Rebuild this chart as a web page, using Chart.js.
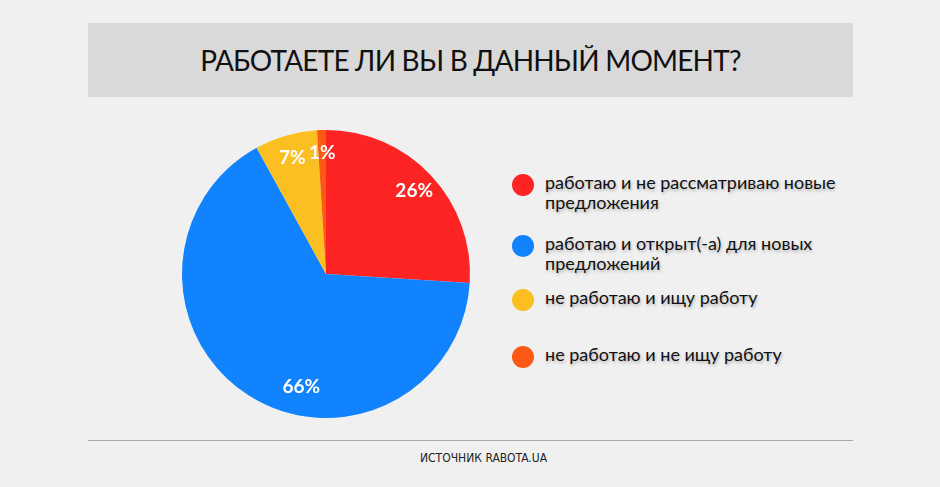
<!DOCTYPE html>
<html>
<head>
<meta charset="utf-8">
<script src="https://cdn.jsdelivr.net/npm/chart.js@4/dist/chart.umd.min.js"></script>
<style>
  html, body { margin: 0; padding: 0; }
  body { width: 940px; height: 487px; background: #f0f0f0; position: relative; overflow: hidden; font-family: Lato, "Open Sans", sans-serif; }
  #titlebar { position: absolute; left: 88px; top: 23px; width: 765px; height: 74px; background: #d9d9d9; }
  #titlebar h1 { margin: 0; font-weight: 400; font-size: 28px; line-height: 74px; text-align: center; color: #111; letter-spacing: -0.8px; }
  #pie { position: absolute; left: 176px; top: 124px; width: 300px; height: 300px; }
  #legend { position: absolute; left: 512px; top: 172px; width: 340px; }
  .item { position: relative; padding-left: 33px; font-size: 18px; line-height: 20px; color: #111; text-shadow: 1px 2px 3px rgba(0,0,0,0.25); }
  .dot { position: absolute; left: 0; top: 2px; width: 22px; height: 22px; border-radius: 50%; }
  #rule { position: absolute; left: 88px; top: 440px; width: 765px; height: 1px; background: #a8a8a8; }
  #source { position: absolute; left: 420px; top: 451px; font-family: "Liberation Sans Narrow", "DejaVu Sans Condensed", sans-serif; font-size: 12px; color: #222; }
</style>
</head>
<body>
<div id="titlebar"><h1>РАБОТАЕТЕ ЛИ ВЫ В ДАННЫЙ МОМЕНТ?</h1></div>
<canvas id="pie" width="300" height="300"></canvas>
<div id="legend"></div>
<div id="rule"></div>
<div id="source">ИСТОЧНИК RABOTA.UA</div>
<script>
const answers = [
  ['работаю и не рассматриваю новые', 'предложения'],
  ['работаю и открыт(-а) для новых', 'предложений'],
  ['не работаю и ищу работу'],
  ['не работаю и не ищу работу']
];
const shares = [26, 66, 7, 1];
const sliceColors = ['#fe2424', '#1283ff', '#fcbf22', '#fc5a14'];

// gaps between legend rows
const legendGaps = [0, 21, 14, 37];

const legendBox = document.getElementById('legend');
answers.forEach((lines, i) => {
  const row = document.createElement('div');
  row.className = 'item';
  row.style.marginTop = legendGaps[i] + 'px';
  row.innerHTML = '<span class="dot" style="background:' + sliceColors[i] + '"></span>' + lines.join('<br>');
  legendBox.appendChild(row);
});

const percentLabels = {
  id: 'percentLabels',
  afterDatasetsDraw(chart) {
    const ctx = chart.ctx;
    const meta = chart.getDatasetMeta(0);
    ctx.save();
    ctx.fillStyle = '#fff';
    ctx.font = 'bold 19px Lato, "Open Sans", sans-serif';
    ctx.textAlign = 'center';
    ctx.textBaseline = 'middle';
    meta.data.forEach((arc, i) => {
      const p = arc.getProps(['x', 'y', 'startAngle', 'endAngle', 'outerRadius']);
      // big slice label sits a bit lower than its middle, like the original
      const mid = (p.startAngle + p.endAngle) / 2 - (shares[i] > 50 ? 0.35 : 0);
      const k = shares[i] > 50 ? 0.8 : 0.84;
      ctx.fillText(shares[i] + '%', p.x + Math.cos(mid) * p.outerRadius * k, p.y + Math.sin(mid) * p.outerRadius * k);
    });
    ctx.restore();
  }
};

new Chart(document.getElementById('pie'), {
  type: 'pie',
  data: {
    labels: answers.map(l => l.join(' ')),
    datasets: [{
      data: shares,
      backgroundColor: sliceColors,
      borderWidth: 0
    }]
  },
  options: {
    responsive: false,
    animation: false,
    layout: { padding: 6 },
    plugins: {
      legend: { display: false },
      tooltip: { enabled: false }
    }
  },
  plugins: [percentLabels]
});
</script>
</body>
</html>
